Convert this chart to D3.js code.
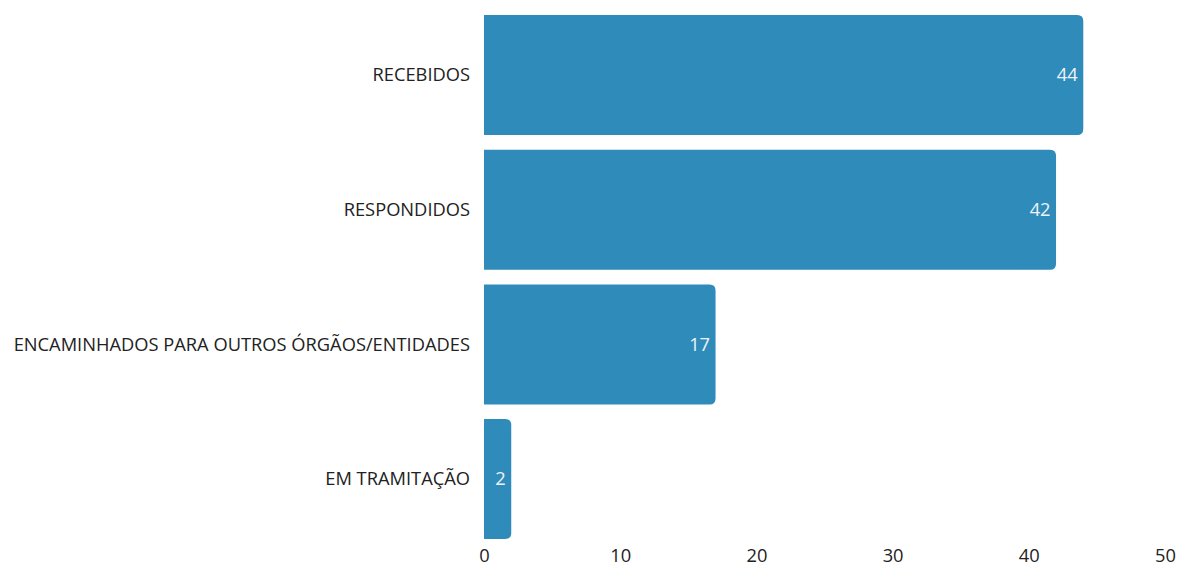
<!DOCTYPE html>
<html><head><meta charset="utf-8">
<script src="https://cdn.jsdelivr.net/npm/d3@7"></script>
<style>body{margin:0;background:#fff}svg{display:block}</style>
</head><body>
<svg id="c" width="1178" height="564"></svg>
<script>
const categories = ["RECEBIDOS","RESPONDIDOS","ENCAMINHADOS PARA OUTROS ÓRGÃOS/ENTIDADES","EM TRAMITAÇÃO"];
const values = [44, 42, 17, 2];
const xTicks = [0, 10, 20, 30, 40, 50];

const svg = d3.select("#c");
const x = d3.scaleLinear().domain([0, 50]).range([484, 1165]);
const y = d3.scaleBand().domain(categories).range([7.7, 546.4]).paddingInner(0.109).paddingOuter(0.0545);
const font = "'Open Sans', sans-serif";
const fs = "18.3px";
const r = 6;

function barPath(x0, x1, y0, h) {
  const rr = Math.min(r, (x1 - x0), h / 2);
  return `M${x0},${y0}H${x1 - rr}Q${x1},${y0} ${x1},${y0 + rr}V${y0 + h - rr}Q${x1},${y0 + h} ${x1 - rr},${y0 + h}H${x0}Z`;
}

svg.selectAll("path.bar").data(values).enter().append("path")
  .attr("class", "bar")
  .attr("fill", "#2E8BBA")
  .attr("d", (d, i) => barPath(x(0), x(d), y(categories[i]), y.bandwidth()));

svg.selectAll("text.val").data(values).enter().append("text")
  .attr("class", "val")
  .attr("x", d => x(d) - 5.5)
  .attr("y", (d, i) => y(categories[i]) + y.bandwidth() / 2)
  .attr("dy", "0.35em")
  .attr("text-anchor", "end")
  .attr("fill", "#eef3f7")
  .style("font-family", font).style("font-size", fs)
  .text(d => d);

svg.selectAll("text.cat").data(categories).enter().append("text")
  .attr("class", "cat")
  .attr("x", 470)
  .attr("y", d => y(d) + y.bandwidth() / 2)
  .attr("dy", "0.35em")
  .attr("text-anchor", "end")
  .attr("fill", "#222")
  .style("font-family", font).style("font-size", fs)
  .text(d => d);

const ax = svg.append("g").attr("transform", "translate(0,546)")
  .call(d3.axisBottom(x).tickValues(xTicks).tickSize(0).tickPadding(0));
ax.select(".domain").remove();
ax.selectAll("text").attr("y", 15.5).attr("dy", null).attr("fill", "#222")
  .style("font-family", font).style("font-size", fs);
</script>
</body></html>
